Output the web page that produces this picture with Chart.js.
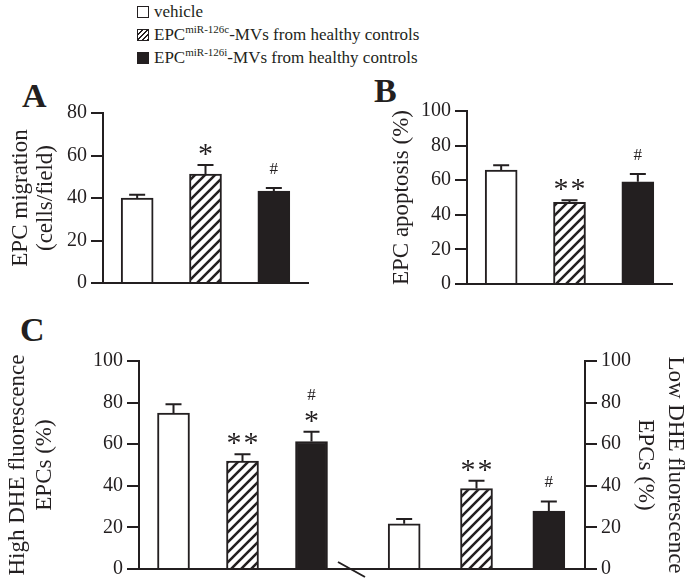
<!DOCTYPE html>
<html lang="en">
<head>
<meta charset="UTF-8">
<title>EPC-MVs effects</title>
<script src="https://cdn.jsdelivr.net/npm/chart.js"></script>
<style>
    body {
        margin: 0;
        background: #fff;
        font-family: 'Liberation Serif', 'Times New Roman', serif;
        color: #231f20;
    }
    #page { position: relative; width: 690px; height: 585px; overflow: hidden; }
    canvas { position: absolute; }
    .letter { position: absolute; font-weight: bold; font-size: 34px; line-height: 1; }

    /* legend on top */
    .legend { position: absolute; left: 137px; top: 0; font-size: 17px; }
    .legend div { height: 23px; display: flex; align-items: center; white-space: nowrap; }
    .sw { width: 12px; height: 12px; border: 1.5px solid #231f20; box-sizing: border-box; margin-right: 5px; background: #fff; }
    .sw.hatch { background: repeating-linear-gradient(-45deg, #231f20 0 1.3px, #fff 1.3px 3.5px); }
    .sw.solid { background: #231f20; }
    .sup { font-size: 11px; position: relative; top: -6px; }
</style>
</head>
<body>
<div id="page">
    <div class="legend">
        <div><span class="sw"></span>vehicle</div>
        <div><span class="sw hatch"></span>EPC<span class="sup">miR-126c</span>-MVs from healthy controls</div>
        <div><span class="sw solid"></span>EPC<span class="sup">miR-126i</span>-MVs from healthy controls</div>
    </div>

    <div class="letter" style="left:22px; top:79px;">A</div>
    <div class="letter" style="left:374px; top:74px;">B</div>
    <div class="letter" style="left:20px; top:313px;">C</div>

    <canvas id="chartA" width="320" height="240" style="left:0; top:60px;"></canvas>
    <canvas id="chartB" width="320" height="240" style="left:370px; top:60px;"></canvas>
    <canvas id="chartHigh" width="368" height="255" style="left:0; top:330px;"></canvas>
    <canvas id="chartLow" width="322" height="255" style="left:368px; top:330px;"></canvas>
</div>

<script>
    // groups (same order in every panel)
    const groups = ['vehicle', 'EPC miR-126c-MVs', 'EPC miR-126i-MVs'];

    // A: migration (cells/field)
    const migration = [40, 51.3, 43.3];
    const migrationErr = [1.5, 4.2, 1.4];
    const starsA = ['', '*', ''];
    const hashA = ['', '', '#'];

    // B: apoptosis (%)
    const apoptosis = [65.9, 47.2, 59.1];
    const apoptosisErr = [2.8, 1.2, 4.5];
    const starsB = ['', '**', ''];
    const hashB = ['', '', '#'];

    // C: DHE fluorescence (%)
    const highDHE = [75, 51.9, 61.3];
    const highDHEErr = [4.2, 3.3, 4.7];
    const starsHigh = ['', '**', '*'];
    const hashHigh = ['', '', '#'];

    const lowDHE = [21.7, 38.7, 27.8];
    const lowDHEErr = [2.3, 3.7, 4.7];
    const starsLow = ['', '**', ''];
    const hashLow = ['', '', '#'];

    // axis ranges
    const maxA = 80;
    const maxPct = 100;
    const tickStep = 20;

    const ink = '#231f20';
    const serif = "'Liberation Serif', 'Times New Roman', serif";

    // diagonal hatch for the miR-126c bars
    function makeHatch() {
        const c = document.createElement('canvas');
        c.width = 10; c.height = 10;
        const g = c.getContext('2d');
        g.fillStyle = '#fff';
        g.fillRect(0, 0, 10, 10);
        g.strokeStyle = ink;
        g.lineWidth = 2.6;
        g.beginPath();
        g.moveTo(-2, 12); g.lineTo(12, -2);
        g.moveTo(-2, 2); g.lineTo(2, -2);
        g.moveTo(8, 12); g.lineTo(12, 8);
        g.stroke();
        return g.createPattern(c, 'repeat');
    }
    const hatch = makeHatch();
    const fills = ['#ffffff', hatch, ink];

    // error bars + significance marks
    const errorBars = {
        id: 'errorBars',
        afterDatasetsDraw(chart, args, opts) {
            const ctx = chart.ctx;
            const y = chart.scales.y;
            const meta = chart.getDatasetMeta(0);
            ctx.save();
            ctx.strokeStyle = ink;
            ctx.fillStyle = ink;
            ctx.lineWidth = 2;
            meta.data.forEach((bar, i) => {
                const top = y.getPixelForValue(opts.values[i] + opts.errors[i]);
                ctx.beginPath();
                ctx.moveTo(bar.x, bar.y);
                ctx.lineTo(bar.x, top);
                ctx.moveTo(bar.x - 8, top);
                ctx.lineTo(bar.x + 8, top);
                ctx.stroke();

                ctx.textAlign = 'center';
                ctx.textBaseline = 'alphabetic';
                let hashCenter = top - 20;
                const n = opts.stars[i].length;
                if (n) {
                    const starCenter = top - 16;
                    ctx.font = '30px ' + serif;
                    for (let k = 0; k < n; k++) {
                        const dx = (k - (n - 1) / 2) * 17;
                        ctx.fillText('*', bar.x + dx, starCenter + 14);
                    }
                    hashCenter = starCenter - 22;
                }
                if (opts.hashes[i]) {
                    ctx.font = '17px ' + serif;
                    ctx.fillText(opts.hashes[i], bar.x, hashCenter + 6);
                }
            });
            ctx.restore();
        }
    };

    // continues the baseline across the gap and draws the break mark
    const axisBreak = {
        id: 'axisBreak',
        afterDraw(chart) {
            const ctx = chart.ctx;
            const a = chart.chartArea;
            ctx.save();
            ctx.strokeStyle = ink;
            ctx.lineWidth = 2;
            ctx.beginPath();
            ctx.moveTo(a.right, a.bottom);
            ctx.lineTo(chart.width, a.bottom);
            ctx.moveTo(a.right - 8, a.bottom - 7);
            ctx.lineTo(a.right + 19, a.bottom + 8);
            ctx.stroke();
            ctx.restore();
        }
    };

    function makePanel(id, values, errors, stars, hashes, cfg) {
        const yAxisWidth = cfg.axisWidth;
        return new Chart(document.getElementById(id), {
            type: 'bar',
            data: {
                labels: groups,
                datasets: [{
                    data: values,
                    backgroundColor: fills,
                    borderColor: ink,
                    borderWidth: 2,
                    barThickness: 32
                }]
            },
            plugins: [errorBars].concat(cfg.extra || []),
            options: {
                responsive: false,
                animation: false,
                events: [],
                layout: { padding: cfg.padding },
                plugins: {
                    legend: { display: false },
                    tooltip: { enabled: false },
                    errorBars: { values: values, errors: errors, stars: stars, hashes: hashes }
                },
                scales: {
                    x: {
                        ticks: { display: false },
                        grid: { display: false },
                        border: { display: true, color: ink, width: 2 },
                        afterFit: s => { s.height = 0; }
                    },
                    y: {
                        position: cfg.side,
                        min: 0,
                        max: cfg.max,
                        ticks: {
                            stepSize: tickStep,
                            color: ink,
                            padding: 4,
                            font: { family: serif, size: 20 }
                        },
                        grid: {
                            drawOnChartArea: false,
                            drawTicks: true,
                            tickLength: 12,
                            color: ink,
                            lineWidth: 2
                        },
                        border: { display: true, color: ink, width: 2 },
                        title: {
                            display: true,
                            text: cfg.title,
                            color: ink,
                            padding: { top: cfg.titlePad, bottom: 0 },
                            font: { family: serif, size: 23, lineHeight: cfg.titleLine }
                        },
                        afterFit: s => { s.width = yAxisWidth; }
                    }
                }
            }
        });
    }

    makePanel('chartA', migration, migrationErr, starsA, hashA, {
        side: 'left', max: maxA, axisWidth: 103,
        padding: { left: 0, top: 53, right: 12, bottom: 17 },
        title: ['EPC migration', '(cells/field)'], titlePad: 8, titleLine: 1.1
    });

    makePanel('chartB', apoptosis, apoptosisErr, starsB, hashB, {
        side: 'left', max: maxPct, axisWidth: 97,
        padding: { left: 0, top: 51, right: 18, bottom: 13 },
        title: 'EPC apoptosis (%)', titlePad: 18, titleLine: 1.2
    });

    makePanel('chartHigh', highDHE, highDHEErr, starsHigh, hashHigh, {
        side: 'left', max: maxPct, axisWidth: 139,
        padding: { left: 0, top: 31, right: 22, bottom: 12 },
        title: ['High DHE fluorescence', 'EPCs (%)'], titlePad: 4, titleLine: 1.2,
        extra: [axisBreak]
    });

    makePanel('chartLow', lowDHE, lowDHEErr, starsLow, hashLow, {
        side: 'right', max: maxPct, axisWidth: 105,
        padding: { left: 0, top: 31, right: 0, bottom: 13 },
        title: ['Low DHE fluorescence', 'EPCs (%)'], titlePad: 0, titleLine: 1.3
    });
</script>
</body>
</html>
